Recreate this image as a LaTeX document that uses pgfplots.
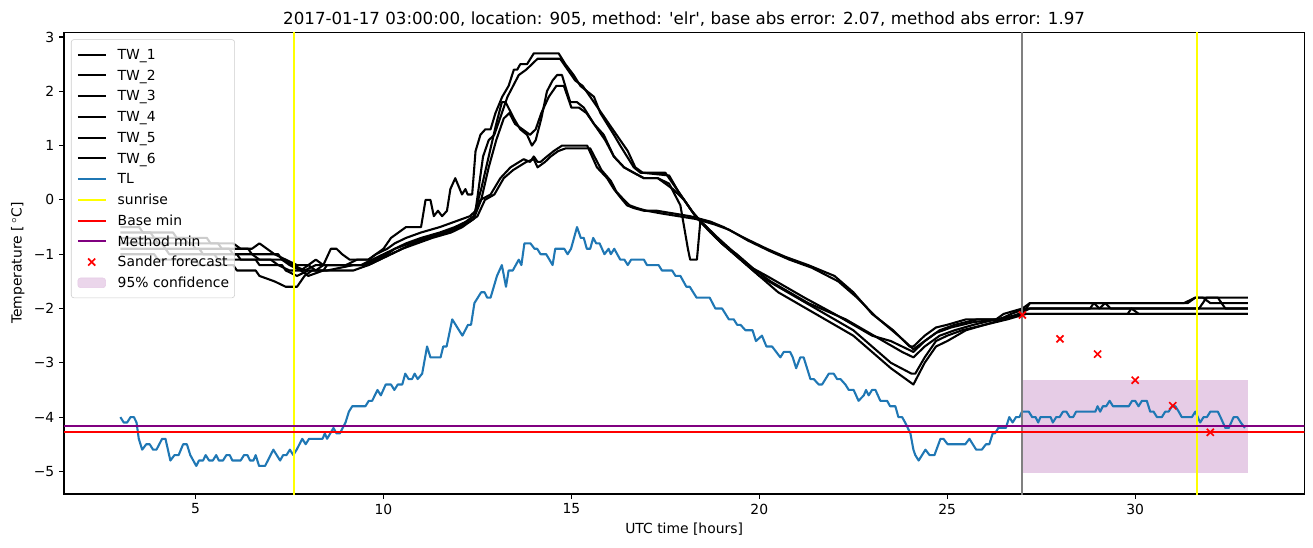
\documentclass[border=0pt]{standalone}
\usepackage{fontspec}
\setmainfont{DejaVu Sans}[Ligatures=TeXOff]
\usepackage{pgfplots}
\pgfplotsset{compat=1.18}
\definecolor{tlblue}{HTML}{1F77B4}
\definecolor{mplpurple}{HTML}{800080}
\definecolor{mplgray}{HTML}{808080}
\definecolor{conffill}{HTML}{E6CCE6}
\definecolor{sunyellow}{HTML}{FFFF00}
\begin{document}
\begin{tikzpicture}
\useasboundingbox (-46.08pt,-38.16pt) rectangle (899.28pt,355.68pt);
\begin{axis}[
  at={(0,0)}, anchor=south west, scale only axis,
  width=893.0pt, height=332.4pt,
  xmin=1.5, xmax=34.5, ymin=-5.4165, ymax=3.0865,
  xtick={5,10,15,20,25,30}, xticklabels={5,10,15,20,25,30},
  ytick={-5,-4,-3,-2,-1,0,1,2,3},
  yticklabels={−5,−4,−3,−2,−1,0,1,2,3},
  tick label style={font=\fontsize{10}{12}\selectfont},
  tick align=outside, major tick length=3.5pt,
  xtick pos=bottom, ytick pos=left,
  tick style={line width=0.8pt, black},
  axis line style={line width=0.8pt},
  title={2017-01-17 03:00:00, location: 905, method: 'elr', base abs error: 2.07, method abs error: 1.97},
  title style={font=\fontsize{12}{14.4}\selectfont, at={(0.5,1)}, anchor=base},
  xlabel={UTC time [hours]},
  xlabel style={font=\fontsize{10}{12}\selectfont, at={(axis description cs:0.5,0)}, anchor=base, yshift=-28.5pt},
  ylabel={Temperature [\,$^\circ$C]},
  ylabel style={font=\fontsize{10}{12}\selectfont, at={(axis description cs:0,0.5)}, anchor=base, yshift=30.5pt},
  legend style={at={(0,1)}, anchor=north west, xshift=5pt, yshift=-5pt,
    draw=black!20, rounded corners=2pt, fill=white, fill opacity=0.8,
    draw opacity=1, text opacity=1, inner xsep=4pt, inner ysep=5pt, row sep=3.3pt, column sep=8pt,
    font=\fontsize{10}{12}\selectfont,
    nodes={inner sep=0pt, text height=9.28pt, text depth=2.36pt}},
  legend cell align=left,
  legend image code/.code={\draw[mark repeat=2,mark phase=2,#1] plot coordinates {(0pt,0pt) (10pt,0pt) (20pt,0pt)};},
  twline/.style={black, line width=1.5pt, line join=round},
]
% confidence band (drawn below lines)
\addplot[draw=none, fill=conffill, forget plot] coordinates {(27,-5.03) (33,-5.03) (33,-3.31) (27,-3.31)} -- cycle;

\addplot[twline] coordinates {(3.0,-0.5)(3.5,-0.5)(3.6,-0.6)(4.4,-0.6)(4.5,-0.7)(5.3,-0.7)(5.4,-0.8)(6.0,-0.8)(6.2,-0.9)(6.5,-0.9)(6.7,-0.8)(6.9,-0.9)(7.1,-1.0)(7.4,-1.1)(7.7,-1.2)(8.0,-1.2)(8.2,-1.1)(8.4,-1.2)(8.6,-0.9)(8.75,-0.9)(8.9,-1.0)(9.1,-1.1)(9.6,-1.1)(9.8,-1.0)(10.0,-0.9)(10.2,-0.7)(10.4,-0.6)(10.6,-0.5)(11.0,-0.5)(11.12,0.0)(11.25,0.0)(11.34,-0.3)(11.45,-0.2)(11.56,-0.3)(11.69,-0.2)(11.78,0.2)(11.91,0.4)(12.09,0.1)(12.18,0.2)(12.24,0.1)(12.36,0.1)(12.45,0.9)(12.58,1.2)(12.71,1.3)(12.85,1.3)(12.98,1.6)(13.16,1.9)(13.33,2.1)(13.47,2.4)(13.56,2.4)(13.64,2.5)(13.82,2.5)(14.0,2.7)(14.66,2.7)(14.84,2.5)(15.06,2.3)(15.24,2.1)(15.42,2.0)(15.6,1.9)(15.77,1.6)(15.95,1.4)(16.13,1.2)(16.3,1.0)(16.48,0.8)(16.66,0.6)(16.84,0.5)(17.5,0.5)(17.6,0.4)(17.8,0.2)(18.0,0.0)(18.2,-0.2)(18.45,-0.4)(18.9,-0.7)(19.3,-0.95)(19.8,-1.25)(20.2,-1.4)(20.7,-1.6)(21.2,-1.8)(21.6,-1.95)(22.0,-2.1)(22.5,-2.3)(23.0,-2.5)(23.5,-2.6)(24.1,-2.8)(24.4,-2.6)(24.8,-2.4)(25.2,-2.3)(25.8,-2.2)(26.5,-2.2)(26.9,-2.1)(27.2,-2.0)(28.8,-2.0)(28.9,-1.9)(29.05,-2.0)(29.2,-1.9)(29.35,-2.0)(31.7,-2.0)(31.9,-1.8)(32.2,-1.8)(32.4,-2.0)(33.0,-2.0)};
\addlegendentry{TW\_1}
\addplot[twline] coordinates {(3.0,-0.6)(3.8,-0.6)(3.9,-0.7)(4.7,-0.7)(4.8,-0.8)(5.6,-0.8)(5.7,-0.9)(6.4,-0.9)(6.5,-1.0)(7.2,-1.0)(7.3,-1.1)(7.6,-1.2)(7.9,-1.3)(8.2,-1.2)(9.0,-1.2)(9.3,-1.1)(9.6,-1.1)(9.8,-1.0)(10.1,-0.9)(10.3,-0.8)(10.6,-0.7)(11.0,-0.6)(11.5,-0.5)(11.9,-0.4)(12.3,-0.3)(12.45,-0.2)(12.55,0.3)(12.65,0.8)(12.8,1.1)(12.95,1.2)(13.1,1.5)(13.3,1.9)(13.45,2.1)(13.6,2.3)(13.8,2.4)(13.95,2.5)(14.1,2.6)(14.7,2.6)(14.9,2.4)(15.1,2.2)(15.3,2.1)(15.5,1.9)(15.7,1.7)(15.9,1.5)(16.1,1.3)(16.3,1.1)(16.5,0.9)(16.7,0.6)(16.9,0.5)(17.6,0.45)(17.85,0.15)(18.05,-0.05)(18.3,-0.3)(18.5,-0.45)(19.0,-0.8)(19.4,-1.0)(19.9,-1.3)(20.3,-1.5)(20.8,-1.7)(21.3,-1.9)(21.8,-2.05)(22.3,-2.2)(22.8,-2.4)(23.3,-2.6)(23.8,-2.8)(24.1,-2.9)(24.4,-2.7)(24.8,-2.5)(25.2,-2.4)(25.7,-2.3)(26.3,-2.2)(27.0,-2.1)(29.8,-2.1)(29.9,-2.0)(30.1,-2.1)(33.0,-2.1)};
\addlegendentry{TW\_2}
\addplot[twline] coordinates {(3.0,-0.7)(3.9,-0.7)(4.0,-0.8)(4.9,-0.8)(5.0,-0.9)(5.9,-0.9)(6.0,-1.0)(6.5,-1.0)(6.7,-1.1)(7.3,-1.1)(7.5,-1.2)(7.8,-1.3)(8.0,-1.2)(8.2,-1.3)(8.4,-1.2)(9.5,-1.2)(9.8,-1.1)(10.1,-1.0)(10.3,-0.9)(10.7,-0.8)(11.1,-0.7)(11.6,-0.6)(12.0,-0.5)(12.4,-0.3)(12.6,0.2)(12.8,0.8)(13.0,1.4)(13.15,1.8)(13.25,1.8)(13.47,1.5)(13.64,1.3)(13.82,1.2)(13.95,1.0)(14.05,1.1)(14.2,1.5)(14.35,2.0)(14.5,2.2)(14.62,2.3)(14.75,2.3)(14.88,2.0)(14.97,1.8)(15.15,1.8)(15.33,1.7)(15.6,1.4)(15.86,1.2)(16.13,0.8)(16.4,0.6)(16.66,0.5)(16.93,0.4)(17.3,0.4)(17.6,0.3)(17.9,-0.1)(18.1,-0.9)(18.16,-1.1)(18.34,-1.1)(18.43,-0.4)(18.7,-0.6)(19.0,-0.8)(19.5,-1.1)(20.0,-1.4)(20.5,-1.6)(21.0,-1.8)(21.5,-2.0)(22.0,-2.2)(22.5,-2.4)(23.0,-2.7)(23.5,-3.0)(24.05,-3.2)(24.15,-3.2)(24.4,-2.9)(24.7,-2.6)(25.0,-2.5)(25.4,-2.4)(26.0,-2.3)(26.5,-2.2)(27.0,-2.1)(27.2,-1.9)(31.4,-1.9)(31.6,-1.8)(31.8,-1.8)(32.0,-1.9)(33.0,-1.9)};
\addlegendentry{TW\_3}
\addplot[twline] coordinates {(3.0,-0.8)(4.1,-0.8)(4.2,-0.9)(5.1,-0.9)(5.2,-1.0)(6.1,-1.0)(6.2,-1.1)(7.0,-1.1)(7.2,-1.2)(7.5,-1.3)(7.8,-1.3)(8.0,-1.4)(8.4,-1.3)(9.2,-1.3)(9.6,-1.2)(9.9,-1.1)(10.2,-1.0)(10.5,-0.9)(10.9,-0.8)(11.3,-0.7)(11.8,-0.6)(12.1,-0.5)(12.4,-0.35)(12.6,0.0)(12.8,0.6)(13.0,1.1)(13.2,1.5)(13.35,1.6)(13.5,1.4)(13.7,1.3)(13.9,1.2)(14.05,1.3)(14.2,1.6)(14.4,1.9)(14.6,2.1)(14.8,2.1)(14.9,1.9)(15.0,1.7)(15.2,1.7)(15.4,1.6)(15.6,1.4)(15.9,1.1)(16.13,0.8)(16.4,0.6)(16.66,0.5)(16.93,0.4)(17.3,0.4)(17.7,0.2)(18.0,0.0)(18.3,-0.3)(18.6,-0.5)(19.0,-0.8)(19.5,-1.1)(20.0,-1.4)(20.5,-1.7)(21.0,-1.9)(21.5,-2.1)(22.0,-2.3)(22.5,-2.5)(23.0,-2.8)(23.5,-3.1)(24.1,-3.4)(24.4,-3.0)(24.7,-2.7)(25.0,-2.6)(25.5,-2.4)(26.0,-2.3)(26.6,-2.2)(27.1,-2.1)(33.0,-2.1)};
\addlegendentry{TW\_4}
\addplot[twline] coordinates {(3.0,-0.9)(4.2,-0.9)(4.3,-1.0)(5.5,-1.0)(5.6,-1.1)(6.6,-1.1)(6.7,-1.2)(7.3,-1.2)(7.4,-1.3)(7.7,-1.4)(8.0,-1.3)(8.4,-1.3)(8.5,-1.2)(9.4,-1.2)(9.7,-1.1)(10.0,-1.0)(10.3,-0.9)(10.6,-0.8)(11.0,-0.7)(11.5,-0.6)(11.9,-0.5)(12.2,-0.4)(12.4,-0.3)(12.58,0.0)(12.85,0.1)(13.11,0.4)(13.38,0.6)(13.73,0.75)(13.9,0.7)(14.0,0.8)(14.1,0.7)(14.18,0.7)(14.35,0.8)(14.53,0.9)(14.75,1.0)(15.42,1.0)(15.55,0.8)(15.68,0.6)(15.95,0.4)(16.13,0.2)(16.3,0.05)(16.48,-0.1)(16.66,-0.15)(16.93,-0.2)(17.28,-0.2)(18.16,-0.3)(18.7,-0.4)(19.05,-0.5)(19.6,-0.7)(20.2,-0.9)(20.7,-1.05)(21.3,-1.2)(22.0,-1.4)(22.5,-1.7)(23.0,-2.1)(23.56,-2.4)(24.0,-2.7)(24.1,-2.7)(24.4,-2.5)(24.7,-2.35)(25.0,-2.3)(25.5,-2.2)(26.3,-2.2)(26.5,-2.1)(27.0,-2.0)(27.2,-1.9)(31.3,-1.9)(31.6,-1.8)(33.0,-1.8)};
\addlegendentry{TW\_5}
\addplot[twline] coordinates {(3.0,-1.0)(3.9,-1.0)(4.0,-1.1)(5.0,-1.1)(5.1,-1.2)(6.0,-1.2)(6.1,-1.3)(6.6,-1.3)(6.7,-1.4)(7.1,-1.5)(7.4,-1.6)(7.7,-1.6)(7.9,-1.4)(8.1,-1.3)(8.5,-1.3)(9.2,-1.2)(9.6,-1.2)(9.9,-1.1)(10.2,-1.0)(10.5,-0.9)(10.8,-0.8)(11.2,-0.7)(11.7,-0.6)(12.0,-0.5)(12.3,-0.4)(12.5,-0.3)(12.7,0.0)(12.95,0.1)(13.2,0.4)(13.45,0.55)(13.8,0.7)(14.0,0.75)(14.1,0.6)(14.3,0.7)(14.45,0.8)(14.65,0.9)(14.85,0.95)(15.5,0.95)(15.65,0.75)(15.8,0.55)(16.05,0.35)(16.2,0.15)(16.4,0.0)(16.55,-0.1)(16.75,-0.15)(17.0,-0.2)(17.4,-0.25)(18.3,-0.35)(18.8,-0.45)(19.2,-0.55)(19.7,-0.75)(20.3,-0.95)(20.8,-1.1)(21.4,-1.25)(22.1,-1.5)(22.6,-1.8)(23.1,-2.15)(23.7,-2.5)(24.1,-2.75)(24.4,-2.6)(24.7,-2.45)(25.1,-2.35)(25.7,-2.25)(26.4,-2.2)(26.7,-2.1)(27.1,-2.0)(33.0,-2.0)};
\addlegendentry{TW\_6}

\addplot[tlblue, line width=1.5pt, line join=round] coordinates {(3.0,-4.0)(3.09,-4.1)(3.18,-4.1)(3.27,-4.0)(3.36,-4.0)(3.43,-4.1)(3.49,-4.4)(3.58,-4.6)(3.69,-4.5)(3.78,-4.5)(3.87,-4.6)(3.96,-4.6)(4.11,-4.4)(4.2,-4.4)(4.33,-4.8)(4.44,-4.7)(4.55,-4.7)(4.67,-4.5)(4.77,-4.5)(4.86,-4.7)(5.02,-4.9)(5.09,-4.8)(5.2,-4.8)(5.27,-4.7)(5.36,-4.8)(5.46,-4.8)(5.55,-4.7)(5.62,-4.8)(5.73,-4.8)(5.82,-4.7)(5.91,-4.7)(5.98,-4.8)(6.2,-4.8)(6.29,-4.7)(6.38,-4.7)(6.45,-4.8)(6.54,-4.8)(6.6,-4.7)(6.69,-4.9)(6.85,-4.9)(7.07,-4.6)(7.25,-4.8)(7.33,-4.7)(7.42,-4.7)(7.51,-4.6)(7.6,-4.7)(7.69,-4.6)(7.84,-4.4)(7.93,-4.5)(8.02,-4.4)(8.38,-4.4)(8.44,-4.3)(8.5,-4.4)(8.67,-4.2)(8.75,-4.3)(8.84,-4.3)(8.99,-4.1)(9.08,-3.9)(9.17,-3.8)(9.52,-3.8)(9.61,-3.7)(9.7,-3.7)(9.84,-3.5)(9.93,-3.6)(10.06,-3.4)(10.2,-3.4)(10.29,-3.5)(10.38,-3.4)(10.5,-3.4)(10.58,-3.2)(10.67,-3.3)(10.76,-3.3)(10.83,-3.2)(10.91,-3.3)(11.03,-3.2)(11.16,-2.7)(11.25,-2.9)(11.52,-2.9)(11.59,-2.7)(11.68,-2.7)(11.83,-2.2)(12.1,-2.5)(12.25,-2.3)(12.33,-2.3)(12.42,-1.9)(12.6,-1.7)(12.69,-1.7)(12.76,-1.8)(12.85,-1.8)(13.02,-1.4)(13.15,-1.2)(13.26,-1.6)(13.33,-1.3)(13.44,-1.3)(13.6,-1.1)(13.67,-1.2)(13.75,-0.8)(13.91,-0.8)(14.02,-0.9)(14.09,-0.9)(14.18,-1.0)(14.33,-1.0)(14.5,-1.2)(14.57,-0.9)(14.81,-0.9)(14.9,-1.0)(14.99,-0.9)(15.15,-0.5)(15.25,-0.7)(15.33,-0.7)(15.41,-0.9)(15.5,-0.9)(15.58,-0.7)(15.66,-0.8)(15.75,-0.8)(15.88,-1.0)(15.99,-0.9)(16.05,-1.0)(16.14,-0.9)(16.3,-1.1)(16.41,-1.1)(16.5,-1.2)(16.59,-1.1)(16.93,-1.1)(17.01,-1.2)(17.32,-1.2)(17.41,-1.3)(17.68,-1.3)(17.77,-1.4)(17.9,-1.4)(18.06,-1.6)(18.15,-1.6)(18.33,-1.8)(18.68,-1.8)(18.83,-2.0)(19.01,-2.0)(19.19,-2.2)(19.32,-2.2)(19.41,-2.3)(19.5,-2.3)(19.63,-2.4)(19.82,-2.4)(19.91,-2.6)(20.07,-2.5)(20.19,-2.7)(20.34,-2.7)(20.56,-2.9)(20.65,-2.8)(20.82,-2.8)(20.89,-2.9)(20.98,-3.1)(21.09,-2.9)(21.18,-2.9)(21.36,-3.3)(21.45,-3.3)(21.58,-3.4)(21.67,-3.4)(21.85,-3.2)(21.98,-3.2)(22.07,-3.3)(22.16,-3.3)(22.29,-3.4)(22.38,-3.5)(22.51,-3.5)(22.64,-3.7)(22.78,-3.6)(22.84,-3.5)(22.91,-3.6)(23.0,-3.5)(23.09,-3.5)(23.22,-3.7)(23.4,-3.7)(23.48,-3.8)(23.62,-3.8)(23.7,-4.0)(23.8,-4.0)(23.88,-4.1)(24.02,-4.3)(24.1,-4.6)(24.15,-4.7)(24.24,-4.8)(24.42,-4.6)(24.53,-4.7)(24.66,-4.7)(24.82,-4.4)(24.9,-4.4)(25.01,-4.5)(25.48,-4.5)(25.59,-4.4)(25.77,-4.6)(25.92,-4.6)(26.03,-4.5)(26.12,-4.5)(26.21,-4.3)(26.27,-4.3)(26.36,-4.2)(26.56,-4.2)(26.65,-4.0)(26.74,-4.1)(26.83,-4.0)(26.92,-4.0)(26.99,-3.9)(27.17,-3.9)(27.26,-4.0)(27.35,-4.0)(27.42,-4.1)(27.48,-4.0)(27.75,-4.0)(27.81,-4.1)(27.9,-4.0)(27.99,-4.0)(28.08,-3.9)(28.17,-3.9)(28.26,-4.0)(28.35,-4.0)(28.43,-3.9)(28.94,-3.9)(29.0,-3.8)(29.07,-3.9)(29.14,-3.8)(29.23,-3.8)(29.32,-3.7)(29.41,-3.8)(29.83,-3.8)(29.92,-3.7)(30.0,-3.7)(30.09,-3.8)(30.18,-3.7)(30.31,-3.7)(30.4,-3.9)(30.49,-3.9)(30.58,-4.0)(30.71,-4.0)(30.8,-3.9)(30.89,-3.9)(30.98,-3.8)(31.07,-3.8)(31.16,-3.9)(31.24,-4.0)(31.51,-4.0)(31.6,-3.9)(31.73,-4.1)(31.82,-4.0)(31.91,-4.0)(32.0,-3.9)(32.2,-3.9)(32.27,-4.0)(32.4,-4.2)(32.49,-4.2)(32.62,-4.0)(32.72,-4.0)(32.81,-4.1)(32.92,-4.2)};
\addlegendentry{TL}

\addplot[sunyellow, line width=1.5pt] coordinates {(7.63,-6) (7.63,4)};
\addlegendentry{sunrise}
\addplot[sunyellow, line width=1.5pt, forget plot] coordinates {(31.64,-6) (31.64,4)};
\addplot[mplgray, line width=1.5pt, forget plot] coordinates {(27.0,-6) (27.0,4)};

\addplot[red, line width=1.5pt] coordinates {(0,-4.27) (36,-4.27)};
\addlegendentry{Base min}
\addplot[mplpurple, line width=1.5pt] coordinates {(0,-4.17) (36,-4.17)};
\addlegendentry{Method min}

\addplot[only marks, red, mark=x, mark size=3.6pt, line width=1.2pt] coordinates {(27,-2.12) (28,-2.56) (29,-2.84) (30,-3.32) (31,-3.79) (32,-4.28)};
\addlegendentry{Sander forecast}

\addlegendimage{legend image code/.code={\fill[conffill] (0pt,-3.5pt) rectangle (20pt,3.5pt);}}
\addlegendentry{95\% confidence}
\end{axis}
\end{tikzpicture}
\end{document}
